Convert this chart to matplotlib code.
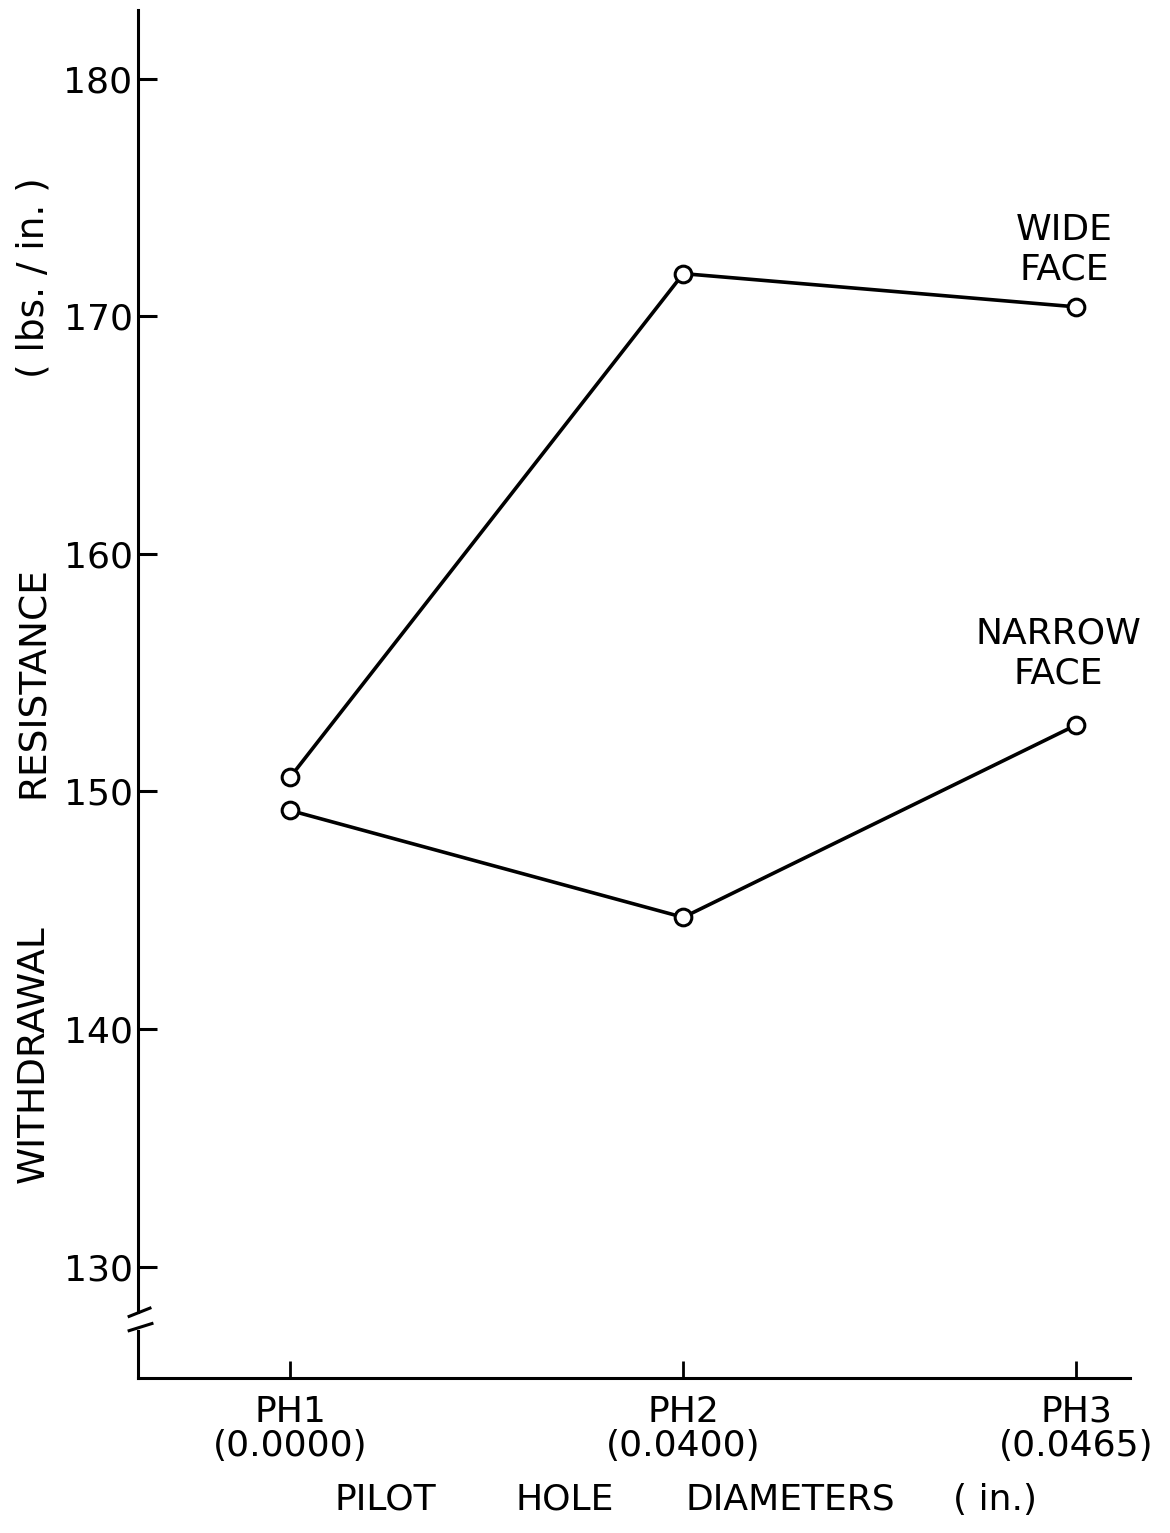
import numpy as np
import matplotlib
matplotlib.use("Agg")
import matplotlib.pyplot as plt
import matplotlib.transforms as mtransforms

# data
holes = ["PH1\n(0.0000)", "PH2\n(0.0400)", "PH3\n(0.0465)"]
x_pos = [1, 2, 3]
wide_face = [150.6, 171.8, 170.4]
narrow_face = [149.2, 144.7, 152.8]
y_ticks = [130, 140, 150, 160, 170, 180]

# axis titles are hand lettered with wide gaps between words
ylabel_words = ["WITHDRAWAL", "RESISTANCE", "( lbs. / in. )"]
xlabel_words = ["PILOT", "HOLE", "DIAMETERS", "( in.)"]

plt.rcParams['font.family'] = ['DejaVu Sans']

W, H = 1170, 1533
fig = plt.figure(figsize=(W / 100, H / 100), dpi=100)
ax = fig.add_axes([0.118, 0.101, 0.848, 0.8925])

line_kw = dict(color='black', lw=2.6, marker='o', markersize=12,
               markerfacecolor='white', markeredgecolor='black', markeredgewidth=2.2)
ax.plot(x_pos, wide_face, **line_kw)
ax.plot(x_pos, narrow_face, **line_kw)

ax.set_xlim(0.613, 3.137)
ax.set_ylim(125.3, 182.9)

ax.spines['top'].set_visible(False)
ax.spines['right'].set_visible(False)
ax.spines['left'].set_visible(False)
ax.spines['bottom'].set_linewidth(2.2)

# left axis drawn in two pieces with a break near the bottom
trans = mtransforms.blended_transform_factory(ax.transAxes, ax.transData)
ax.plot([0, 0], [128.1, 182.9], color='black', lw=2.2, transform=trans, clip_on=False)
ax.plot([0, 0], [125.3, 127.3], color='black', lw=2.2, transform=trans, clip_on=False)
ax.plot([-0.009, 0.012], [127.9, 128.25], color='black', lw=2.2, transform=trans, clip_on=False)
ax.plot([-0.009, 0.014], [127.3, 127.6], color='black', lw=2.2, transform=trans, clip_on=False)

ax.set_yticks(y_ticks)
ax.set_yticklabels([str(t) for t in y_ticks])
ax.set_xticks(x_pos)
ax.set_xticklabels(holes, linespacing=1.0)
ax.tick_params(axis='y', direction='in', length=14, width=2.2, labelsize=26, pad=4)
ax.tick_params(axis='x', direction='in', length=12, width=2.0, labelsize=26, pad=12)

ax.text(2.97, 172.8, "WIDE\nFACE", ha='center', va='center', fontsize=26, linespacing=1.2)
ax.text(2.955, 155.8, "NARROW\nFACE", ha='center', va='center', fontsize=26, linespacing=1.2)

# y title, word by word (pixel centres from the top of the page)
for word, yc in zip(ylabel_words, [1054, 682, 278]):
    fig.text(34 / W, 1 - yc / H, word, rotation=90, ha='center', va='center', fontsize=27)

# x title, word by word
for word, xc in zip(xlabel_words, [385, 565, 790, 995]):
    fig.text(xc / W, 1 - 1500 / H, word, ha='center', va='center', fontsize=26)

fig.savefig("out.png", dpi=100, facecolor='white')
